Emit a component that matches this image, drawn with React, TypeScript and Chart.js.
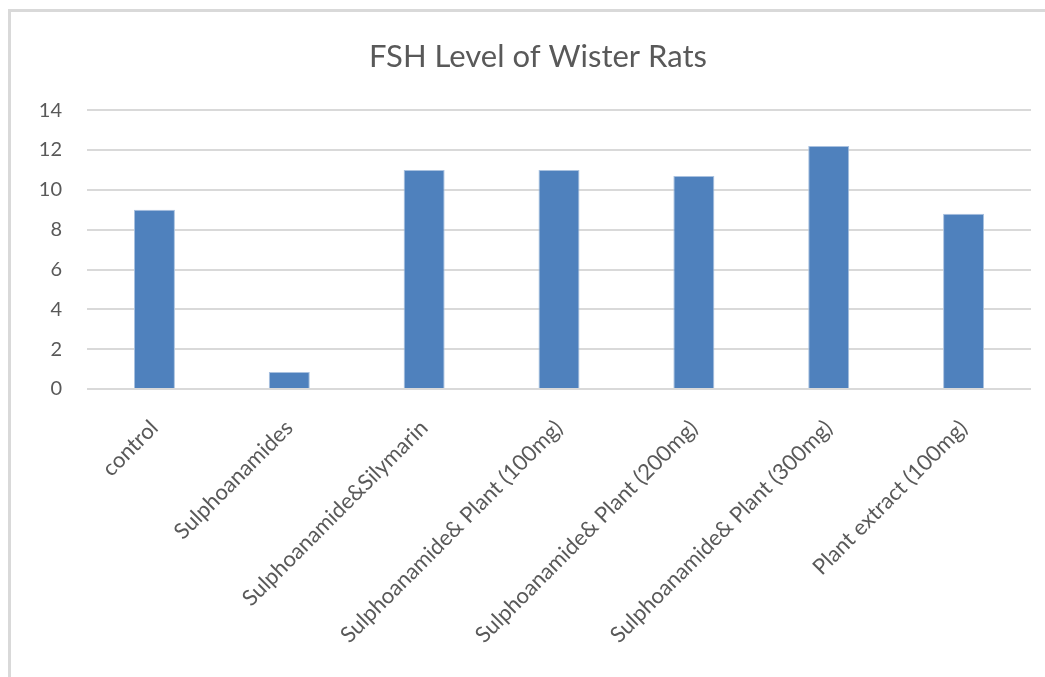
import React, { useEffect, useRef } from "react";
import { Chart, registerables } from "chart.js";

Chart.register(...registerables);

const categories = [
  "control",
  "Sulphoanamides",
  "Sulphoanamide&Silymarin",
  "Sulphoanamide& Plant (100mg)",
  "Sulphoanamide& Plant (200mg)",
  "Sulphoanamide& Plant (300mg)",
  "Plant extract (100mg)",
];
const fshValues = [9.0, 0.85, 11.0, 11.0, 10.7, 12.2, 8.8];
const titleText = "FSH Level of Wister Rats";
const yMin = 0;
const yMax = 14;
const yStep = 2;

const FONT = "Lato, 'Open Sans', sans-serif";
const TEXT = "#595959";
const GRID = "#d9d9d9";

const titleShift = {
  id: "titleShift",
  afterLayout(chart: any) {
    const t = chart.titleBlock;
    if (t) {
      t.left = 45;
      t.right = 1031;
      t.width = t.right - t.left;
    }
  },
};

export default function App() {
  const ref = useRef<HTMLCanvasElement | null>(null);

  useEffect(() => {
    if (!ref.current) return;
    const chart = new Chart(ref.current, {
      type: "bar",
      data: {
        labels: categories,
        datasets: [
          {
            label: "FSH",
            data: fshValues,
            backgroundColor: "#4f81bd",
            borderColor: "#a9c1df",
            borderWidth: 1,
            barPercentage: 0.304,
            categoryPercentage: 1,
          },
        ],
      },
      plugins: [titleShift],
      options: {
        responsive: false,
        animation: false,
        layout: { padding: { left: 10, right: 14, top: 0, bottom: 0 } },
        plugins: {
          legend: { display: false },
          tooltip: { enabled: false },
          title: {
            display: true,
            text: titleText,
            color: TEXT,
            font: { family: FONT, size: 31, weight: "normal" },
            padding: { top: 38, bottom: 35 },
          },
        },
        scales: {
          x: {
            grid: { display: false },
            border: { display: false },
            ticks: {
              color: TEXT,
              font: { family: FONT, size: 22 },
              minRotation: 45,
              maxRotation: 45,
              padding: 18,
              autoSkip: false,
            },
            afterFit: (s: any) => {
              s.height = 288;
            },
          },
          y: {
            min: yMin,
            max: yMax,
            grid: { color: GRID, lineWidth: 2, drawTicks: false },
            border: { display: false },
            ticks: {
              stepSize: yStep,
              color: TEXT,
              font: { family: FONT, size: 20 },
              padding: 25,
            },
            afterFit: (s: any) => {
              s.width = 77;
            },
          },
        },
      },
    });
    return () => chart.destroy();
  }, []);

  return (
    <div
      style={{
        position: "fixed",
        left: 0,
        top: 0,
        width: 1045,
        height: 677,
        overflow: "hidden",
        background: "#fff",
      }}
    >
      <div
        style={{
          position: "absolute",
          left: 8,
          top: 9,
          width: 1100,
          height: 700,
          borderLeft: "3px solid #d9d9d9",
          borderTop: "3px solid #d9d9d9",
        }}
      />
      <canvas
        ref={ref}
        width={1045}
        height={677}
        style={{ position: "absolute", left: 0, top: 0 }}
      />
    </div>
  );
}
